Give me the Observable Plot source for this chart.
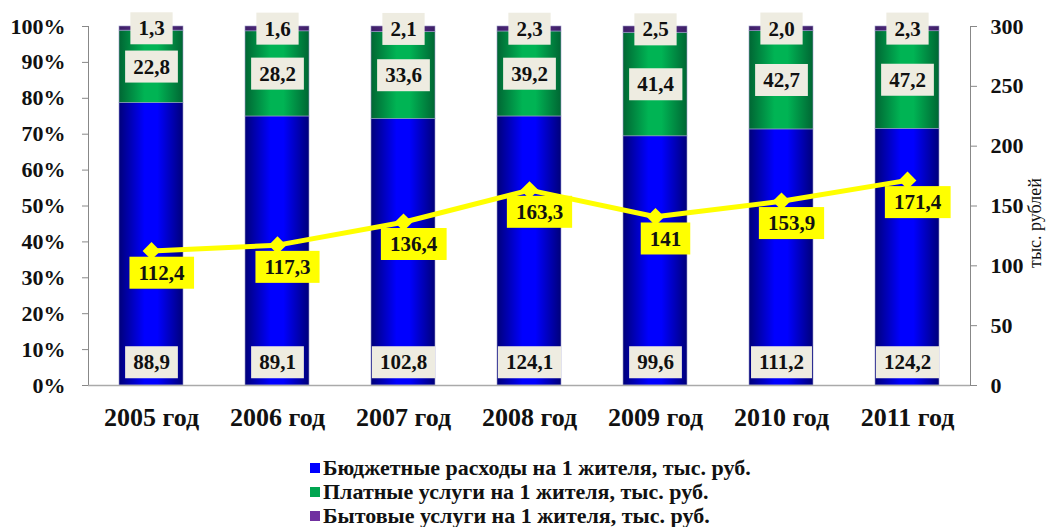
<!DOCTYPE html>
<html><head><meta charset="utf-8">
<script src="https://cdn.jsdelivr.net/npm/d3@7"></script>
<script src="https://cdn.jsdelivr.net/npm/@observablehq/plot@0.6"></script>
<style>
body{margin:0;background:#fff;font-family:"Times New Roman","Liberation Serif",Tinos,"DejaVu Serif",serif;}
#legend{margin-left:310px;padding-top:16px;}
#legend .it{display:flex;align-items:center;height:24px;font-weight:bold;font-size:22px;color:#111;white-space:nowrap;}
#legend .sw{width:10px;height:10px;margin-right:3px;}
svg text{font-family:"Times New Roman","Liberation Serif",Tinos,"DejaVu Serif",serif;}
</style></head><body>
<div id="chart"></div>
<div id="legend"></div>
<script>
const years = ["2005 год","2006 год","2007 год","2008 год","2009 год","2010 год","2011 год"];
const budget = [88.9, 89.1, 102.8, 124.1, 99.6, 111.2, 124.2];
const paid = [22.8, 28.2, 33.6, 39.2, 41.4, 42.7, 47.2];
const household = [1.3, 1.6, 2.1, 2.3, 2.5, 2.0, 2.3];
const total = [112.4, 117.3, 136.4, 163.3, 141, 153.9, 171.4];
const seriesNames = [
  "Бюджетные расходы на 1 жителя, тыс. руб.",
  "Платные услуги на 1 жителя, тыс. руб.",
  "Бытовые услуги на 1 жителя, тыс. руб."
];
const legendColors = ["#0000ff", "#00a550", "#7030a0"];
const rightTicks = [0, 50, 100, 150, 200, 250, 300];
const rightMax = 300;

const fmt1 = v => d3.format(".1f")(v).replace(".", ",");
const fmtT = v => String(v).replace(".", ",");
const rows = years.flatMap((y, i) => [
  {year: y, series: seriesNames[0], value: budget[i]},
  {year: y, series: seriesNames[1], value: paid[i]},
  {year: y, series: seriesNames[2], value: household[i]}
]);
const lineData = years.map((y, i) => ({year: y, total: total[i]}));
const FF = "'Times New Roman','Liberation Serif',Tinos,'DejaVu Serif',serif";
const BEIGE_TXT = "#101010", YEL_TXT = "#121212";

const svg = Plot.plot({
  width: 1049, height: 440,
  marginLeft: 88, marginRight: 79, marginTop: 26, marginBottom: 55,
  style: {fontFamily: FF, fontSize: "21px", fontWeight: "bold", color: "#111", background: "white"},
  x: {domain: years, paddingInner: 0.49, paddingOuter: 0.245, label: null},
  y: {domain: [0, 1], label: null},
  color: {domain: seriesNames, range: ["url(#gBlue)", "url(#gGreen)", "url(#gPurple)"]},
  marks: [
    Plot.barY(rows, {x: "year", y: "value", fill: "series", z: "series", offset: "normalize", stroke: "#9a9ac8", strokeWidth: 0.6}),
    Plot.frame({anchor: "left", stroke: "#888"}),
    Plot.frame({anchor: "right", stroke: "#888"}),
    Plot.ruleY([0], {stroke: "#aaa", strokeWidth: 1.5}),
    Plot.axisY(d3.range(0, 11).map(d => d / 10), {anchor: "left", tickFormat: d3.format(".0%"), tickSize: 6, tickPadding: 17, stroke: "#888", fontSize: 22, fontWeight: "bold", label: null}),
    Plot.axisY(rightTicks.map(d => d / rightMax), {anchor: "right", tickFormat: d => Math.round(d * rightMax), tickSize: 6, tickPadding: 14, stroke: "#888", fontSize: 22, fontWeight: "bold", label: null}),
    Plot.axisX({tickSize: 0, tickPadding: 22, fontSize: 26, fontWeight: "bold", label: null}),
    Plot.text(["тыс. рублей"], {frameAnchor: "right", textAnchor: "middle", text: d => d, rotate: -90, dx: 65, dy: 17, fontSize: 18, fontWeight: "normal", fill: "#111"}),
    // budget labels near base
    Plot.text(rows.filter(d => d.series === seriesNames[0]), {x: "year", y: 0.064, text: d => fmt1(d.value), fill: BEIGE_TXT, ariaDescription: "lbl-beige"}),
    // paid and household labels in segment middles
    Plot.text(rows, Plot.stackY({x: "year", y: "value", z: "series", offset: "normalize", text: d => d.series === seriesNames[0] ? null : fmt1(d.value), fill: BEIGE_TXT, ariaDescription: "lbl-beige"})),
    Plot.line(lineData, {x: "year", y: d => d.total / rightMax, stroke: "#ffff00", strokeWidth: 5}),
    Plot.dot(lineData, {x: "year", y: d => d.total / rightMax, symbol: "diamond2", r: 8, fill: "#ffff00", stroke: "none"}),
    Plot.text(lineData, {x: "year", y: d => d.total / rightMax, text: d => fmtT(d.total), dy: 22, dx: 10, fill: YEL_TXT, ariaDescription: "lbl-yellow"})
  ]
});

const defs = d3.select(svg).insert("defs", ":first-child");
function grad(id, edge, mid) {
  const g = defs.append("linearGradient").attr("id", id).attr("x1", "0").attr("x2", "1").attr("y1", "0").attr("y2", "0");
  g.append("stop").attr("offset", "0").attr("stop-color", edge);
  g.append("stop").attr("offset", "0.4").attr("stop-color", mid);
  g.append("stop").attr("offset", "0.6").attr("stop-color", mid);
  g.append("stop").attr("offset", "1").attr("stop-color", edge);
}
grad("gBlue", "#00007a", "#0000ff");
grad("gGreen", "#006633", "#00b454");
grad("gPurple", "#3d1f66", "#5c2e8a");

document.getElementById("chart").appendChild(svg);

function boxes(fillKey, fill, px, py) {
  const texts = new Set();
  svg.querySelectorAll("text").forEach(t => {
    let el = t;
    while (el && el !== svg) {
      const f = (el.getAttribute && el.getAttribute("fill")) || "";
      if (f.toLowerCase() === fillKey) { texts.add(t); break; }
      el = el.parentNode;
    }
  });
  texts.forEach(t => {
    const b = t.getBBox();
    const r = document.createElementNS("http://www.w3.org/2000/svg", "rect");
    r.setAttribute("x", b.x - px);
    r.setAttribute("y", b.y - py + 1);
    r.setAttribute("width", b.width + 2 * px);
    r.setAttribute("height", b.height + 2 * py - 2);
    r.setAttribute("fill", fill);
    r.setAttribute("stroke", "none");
    const tr = t.getAttribute("transform");
    if (tr) r.setAttribute("transform", tr);
    t.parentNode.insertBefore(r, t);
  });
}
boxes(BEIGE_TXT, "#eeece1", 8, 5);
boxes(YEL_TXT, "#ffff00", 9, 5);

const legend = d3.select("#legend");
seriesNames.forEach((s, i) => {
  const it = legend.append("div").attr("class", "it");
  it.append("div").attr("class", "sw").style("background", legendColors[i]);
  it.append("span").text(s);
});
</script>
</body></html>
